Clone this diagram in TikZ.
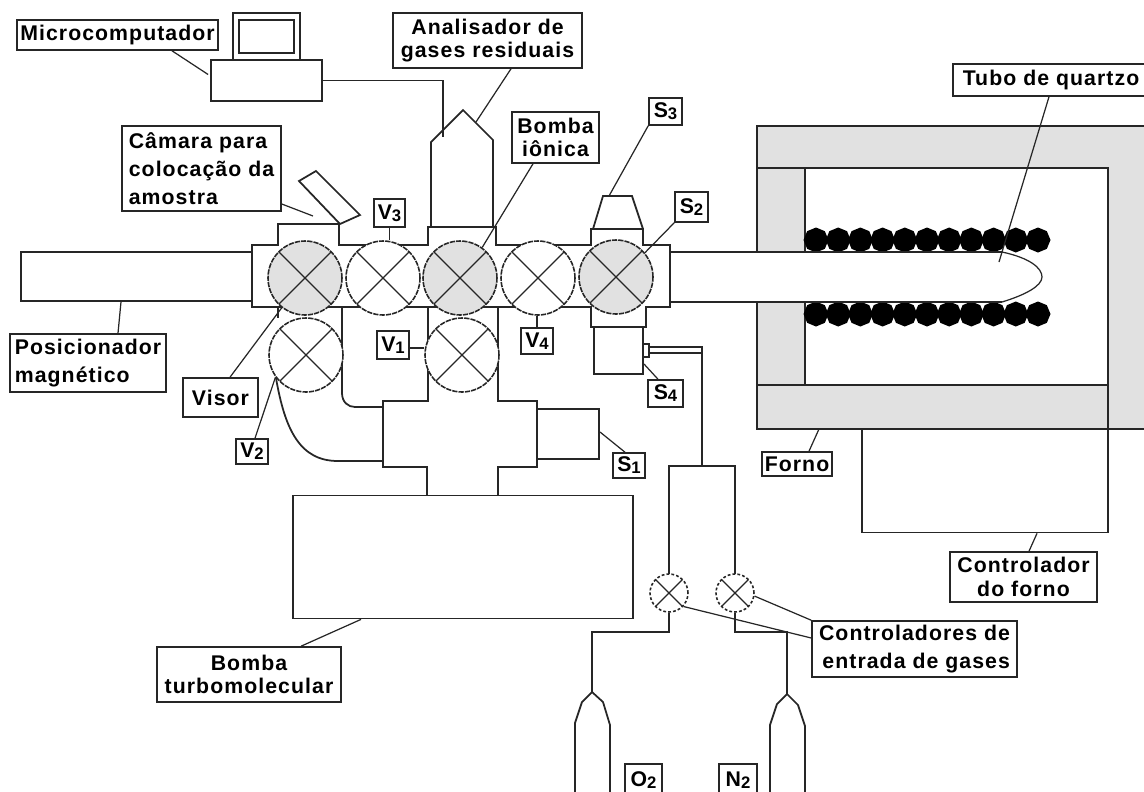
\documentclass[tikz,border=0pt]{standalone}
\usepackage{fontspec}
\newfontfamily\lblfont[LetterSpace=5]{Liberation Sans}
\usetikzlibrary{shapes.geometric}
\newcommand{\lsub}[1]{\raisebox{-1.2pt}{\fontsize{9.5}{9.5}\selectfont #1}}

\tikzset{
	part/.style={line width=1pt, draw=black!85},
	leader/.style={line width=0.7pt, draw=black!85},
	sized/.style 2 args={minimum width=#1*0.02cm, minimum height=#2*0.02cm},
	lbl/.style={draw=black!85, line width=0.9pt, fill=white, inner sep=0pt, text=black,
		font=\lblfont\bfseries\fontsize{12.1}{13.3}\selectfont},
	valve/.style={circle, draw=black!85, line width=0.9pt, dash pattern=on 3pt off 0.6pt, fill=white,
		inner sep=0pt, minimum size=1.48cm,
		path picture={\draw [solid, line width=0.7pt, black!85]
			(path picture bounding box.north west) -- (path picture bounding box.south east)
			(path picture bounding box.north east) -- (path picture bounding box.south west);}},
	gvalve/.style={valve, fill=furnace},
	smallvalve/.style={valve, minimum size=0.76cm, dash pattern=on 1.6pt off 1.2pt},
	coil/.style={regular polygon, regular polygon sides=8, shape border rotate=22.5, fill=black, inner sep=0pt, minimum size=0.5cm}
}
\definecolor{furnace}{HTML}{E1E1E1}

\begin{document}
\begin{tikzpicture}[x=0.02cm,y=-0.02cm]
	\useasboundingbox (0,0) rectangle (1144,792);

	% furnace
	\fill [furnace] (757,126) rectangle (1150,429);
	\draw [part] (1150,126) -- (757,126) -- (757,429) -- (1150,429);
	\draw [part] (757,168) -- (805,168);
	\draw [part] (757,385) -- (805,385);
	\draw [part, fill=white] (805,168) rectangle (1108,385);
	\draw [part] (1108,385) -- (1108,429);
	\node [part, draw, sized={246}{103}, inner sep=0pt] (ctrl) at (985,481) {};

	% heating coils
	\foreach \i in {0,...,10} {
		\node [coil] (up\i) at (816+22.2*\i,240) {};
		\node [coil] (dn\i) at (816+22.2*\i,314) {};
	}

	% quartz tube
	\fill [white] (670,252) -- (1002,252) .. controls (1030,258) and (1042,268) .. (1042,277)
		.. controls (1042,286) and (1025,295) .. (1002,302) -- (670,302) -- cycle;
	\draw [part] (670,252) -- (1002,252);
	\draw [part] (670,302) -- (1002,302);
	\draw [leader] (1002,252) .. controls (1030,258) and (1042,268) .. (1042,277)
		.. controls (1042,286) and (1025,295) .. (1002,302);
	\coordinate (tubeEnd) at (999,262);

	% computer
	\draw [part] (233,60) -- (233,13) -- (300,13) -- (300,60);
	\draw [part] (239,20) rectangle (294,53);
	\node [part, draw, sized={111}{41}, inner sep=0pt] (pc) at (266.5,80.5) {};
	\draw [part] (pc.east) -- (443,80.5) -- (443,137);

	% gas analyser and sample chamber
	\draw [part] (431,227) -- (431,142) -- (463,110) -- (493,140) -- (493,227);
	\draw [part] (299,181) -- (316,171) -- (360,215) -- (340,224) -- cycle;
	\coordinate (analyserSide) at (476,122);
	\coordinate (chamberTip) at (313,216);

	% positioner
	\node [part, draw, sized={231}{49}, inner sep=0pt] (pos) at (136.5,276.5) {};

	% main body
	\draw [part, fill=white] (252,245) -- (278,245) -- (278,224) -- (339,224) -- (339,245) -- (428,245)
		-- (428,227) -- (496,227) -- (496,245) -- (591,245) -- (591,229) -- (643,229) -- (643,245)
		-- (670,245) -- (670,307) -- (646,307) -- (646,327) -- (591,327) -- (591,307) -- (252,307) -- cycle;
	\draw [part] (278,307) -- (278,318);
	\draw [part] (593,229) -- (603,196) -- (632,196) -- (643,229);

	% manifold and pump
	\draw [part] (428,307) -- (428,401) -- (383,401) -- (383,467) -- (427,467) -- (427,496);
	\draw [part] (498,307) -- (498,401) -- (537,401) -- (537,467) -- (498,467) -- (498,496);
	\draw [part] (342,307) -- (342,393) .. controls (342,402) and (348,407) .. (355,407) -- (383,407);
	\draw [part] (276,378) .. controls (285,430) and (300,461) .. (338,461) -- (383,461);
	\node [part, draw, sized={62}{50}, inner sep=0pt] (s1box) at (568,434) {};
	\node [part, draw, sized={340}{123}, inner sep=0pt] (pump) at (463,557) {};
	\coordinate (s1side) at (600,432);

	% gauge S4 and gas line
	\node [part, draw, sized={49}{47}, inner sep=0pt] (s4box) at (618.5,350.5) {};
	\node [part, draw, sized={6}{13}, inner sep=0pt] (port) at (646,350.5) {};
	\coordinate (s4side) at (644,364);
	\draw [part] (649,347) -- (702,347) -- (702,466);
	\draw [part] (649,353) -- (702,353);
	\draw [part] (669,574) -- (669,466) -- (735,466) -- (735,574);

	% valves
	\node [gvalve] (g1) at (305,278) {};
	\node [valve] (v3) at (383,278) {};
	\node [gvalve] (g2) at (460,278) {};
	\node [valve] (v4) at (538,278) {};
	\node [gvalve] (g3) at (616,277) {};
	\node [valve] (v2) at (306,355) {};
	\node [valve] (v1) at (462,355) {};
	\node [smallvalve] (fc1) at (669,593) {};
	\node [smallvalve] (fc2) at (735,593) {};

	% cylinders
	\draw [part] (fc1.south) -- (669,632) -- (592,632) -- (592,692);
	\draw [part] (fc2.south) -- (735,632) -- (787,632) -- (787,694);
	\draw [part] (575,800) -- (575,723) -- (582,702) -- (592,692) -- (603,702) -- (610,725) -- (610,800);
	\draw [part] (770,800) -- (770,725) -- (777,704) -- (787,694) -- (798,705) -- (805,726) -- (805,800);

	% labels
	\node [lbl, sized={201}{30}] (micro) at (117.5,35) {Microcomputador};
	\node [lbl, sized={189}{55}, align=center] (analisador) at (487.5,40.5) {Analisador de\\gases residuais};
	\node [lbl, sized={87}{51}, align=center] (bomba) at (555.5,137.5) {Bomba\\iônica};
	\node [lbl, sized={159}{85}, align=left] (camara) at (201.5,168.5) {Câmara para\\[2.8pt]colocação da\\[2.8pt]amostra};
	\node [lbl, sized={156}{58}, align=left] (posic) at (88,363) {Posicionador\\[2.8pt]magnético};
	\node [lbl, sized={75}{39}] (visor) at (220.5,397.5) {Visor};
	\node [lbl, sized={32}{25}] (lblV2) at (252,451.5) {V\lsub{2}};
	\node [lbl, sized={31}{28}] (lblV3) at (389.5,213) {V\lsub{3}};
	\node [lbl, sized={32}{28}] (lblV1) at (393,345) {V\lsub{1}};
	\node [lbl, sized={32}{26}] (lblV4) at (537,341) {V\lsub{4}};
	\node [lbl, sized={33}{27}] (lblS3) at (665.5,111.5) {S\lsub{3}};
	\node [lbl, sized={33}{30}] (lblS2) at (691.5,207) {S\lsub{2}};
	\node [lbl, sized={35}{27}] (lblS4) at (665.5,393.5) {S\lsub{4}};
	\node [lbl, sized={32}{25}] (lblS1) at (629,465.5) {S\lsub{1}};
	\node [lbl, sized={70}{24}] (forno) at (797,464) {Forno};
	\node [lbl, sized={147}{50}, align=center] (ctrlLbl) at (1023.5,577) {Controlador\\do forno};
	\node [lbl, sized={205}{56}, align=right] (gases) at (914.5,649) {Controladores de\\[2.4pt]entrada de gases};
	\node [lbl, sized={196}{32}] (tubo) at (1051,80) {Tubo de quartzo};
	\node [lbl, sized={184}{55}, align=center] (turbo) at (249,674.5) {Bomba\\turbomolecular};
	\node [lbl, sized={37}{32}] (lblO) at (643.5,780) {O\lsub{2}};
	\node [lbl, sized={38}{32}] (lblN) at (738,780) {N\lsub{2}};

	% leaders
	\draw [leader] ([shift={(54.5,0)}]micro.south) -- ([shift={(-2,-6)}]pc.west);
	\draw [leader] ([shift={(23.5,0)}]analisador.south) -- (analyserSide);
	\draw [leader] ([shift={(-22.5,0)}]bomba.south) -- (g2.54);
	\draw [leader] ([shift={(0,35.5)}]camara.east) -- (chamberTip);
	\draw [leader] ([shift={(30,0)}]posic.north) -- ([shift={(-15.5,0)}]pos.south);
	\draw [leader] ([shift={(9.5,0)}]visor.north) -- (g1.232);
	\draw [leader] ([shift={(3,0)}]lblV2.north) -- (v2.216);
	\draw [leader] (lblV3.south) -- (lblV3.south |- v3.north);
	\draw [leader] ([shift={(0,3)}]lblV1.east) -- ([shift={(0,3)}]lblV1.east -| v1.west);
	\draw [leader] (lblV4.north) -- (lblV4.north |- v4.south);
	\draw [leader] (lblS3.south west) -- (609,196);
	\draw [leader] (lblS2.south west) -- (g3.40);
	\draw [leader] ([shift={(-7.5,0)}]lblS4.north) -- (s4side);
	\draw [leader] ([shift={(-4,0)}]lblS1.north) -- (s1side);
	\draw [leader] ([shift={(12,0)}]forno.north) -- (819,429);
	\draw [leader] ([shift={(5.5,0)}]ctrlLbl.north) -- ([shift={(52,0)}]ctrl.south);
	\draw [leader] (gases.north west) -- (fc2.-9);
	\draw [leader] ([shift={(0,-11)}]gases.west) -- (fc1.-43);
	\draw [leader] ([shift={(-2,0)}]tubo.south) -- (tubeEnd);
	\draw [leader] ([shift={(52,0)}]turbo.north) -- ([shift={(-102,0)}]pump.south);
\end{tikzpicture}
\end{document}
